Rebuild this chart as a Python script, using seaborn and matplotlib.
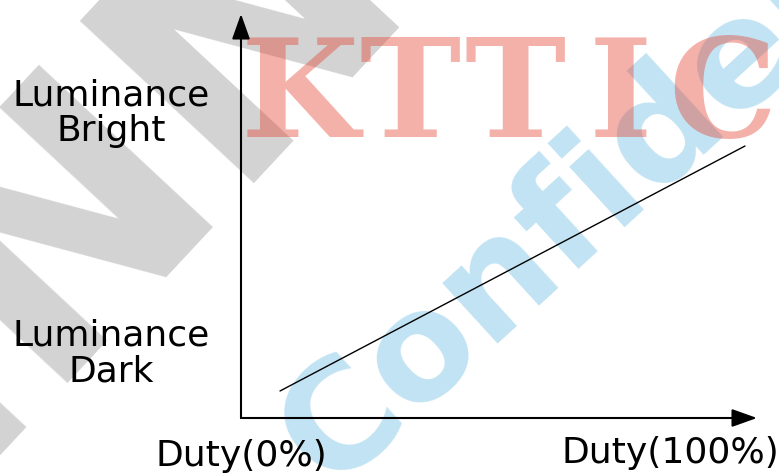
import numpy as np
import pandas as pd
import seaborn as sns
import matplotlib
matplotlib.use("Agg")
import matplotlib.pyplot as plt

# the curve: luminance rises linearly with PWM duty
duty = [0, 100]
luminance = [0, 100]

y_labels = ["Luminance\nDark", "Luminance\nBright"]
x_labels = ["Duty(0%)", "Duty(100%)"]

W, H = 779, 473

sns.set_style("white")
plt.rcParams['font.family'] = ['DejaVu Sans']
plt.rcParams['text.color'] = 'black'


def fx(x, y):
    # pixel position -> figure fraction
    return x / W, 1 - y / H


fig = plt.figure(figsize=(W / 100, H / 100), dpi=100)

# watermarks behind the drawing
x0, y0 = fx(-45, 472)
fig.text(x0, y0, "INNOLUX", fontsize=235, fontweight="bold", color="#d3d3d3",
         rotation=47, rotation_mode="anchor", ha="left", va="baseline", zorder=-3)
x0, y0 = fx(330, 491)
fig.text(x0, y0, "Confidential", fontsize=108, fontweight="bold", color="#c2e3f3",
         rotation=42.5, rotation_mode="anchor", ha="left", va="baseline", zorder=-2)
for ch, cx in zip("KTTIC", [300, 410, 515, 620, 722]):
    x0, y0 = fx(cx, 137)
    fig.text(x0, y0, ch, fontsize=98, fontweight="bold", family="DejaVu Serif",
             color=(0.894, 0.263, 0.192), alpha=0.41, ha="center", va="baseline", zorder=-1)

# plot area: origin at (241, 418), arrow tips at x=757 and y=14
ax = fig.add_axes([241 / W, (H - 418) / H, (757 - 241) / W, (418 - 14) / H])
ax.patch.set_visible(False)

df = pd.DataFrame({"duty": duty, "luminance": luminance})
sns.lineplot(data=df, x="duty", y="luminance", ax=ax, color="black", linewidth=1)

# map duty 0..100 to x 280..745 px, luminance 0..100 to y 391..146 px
sx = (745 - 280) / 100
sy = (391 - 146) / 100
ax.set_xlim(-(280 - 241) / sx, 100 + (757 - 745) / sx)
ax.set_ylim(-(418 - 391) / sy, 100 + (146 - 14) / sy)

for s in ax.spines.values():
    s.set_visible(False)
ax.set_xticks([])
ax.set_yticks([])
ax.set_xlabel("")
ax.set_ylabel("")

arrow = dict(arrowstyle="-|>,head_length=0.7,head_width=0.25", color="black",
             lw=1.5, mutation_scale=22, shrinkA=0, shrinkB=0)
ax.annotate("", xy=(1, 0), xytext=(0, 0), xycoords="axes fraction", arrowprops=arrow,
            annotation_clip=False)
ax.annotate("", xy=(0, 1), xytext=(0, 0), xycoords="axes fraction", arrowprops=arrow,
            annotation_clip=False)

# axis captions
fs = 26
for txt, (cx, by) in zip(y_labels, [(111, 381), (111, 141)]):
    x0, y0 = fx(cx, by)
    fig.text(x0, y0, txt, fontsize=fs, ha="center", va="baseline", multialignment="center",
             linespacing=1.07)
for txt, (cx, by) in zip(x_labels, [(241, 466), (670, 463)]):
    x0, y0 = fx(cx, by)
    fig.text(x0, y0, txt, fontsize=fs, ha="center", va="baseline")

fig.savefig("out.png", dpi=100)
